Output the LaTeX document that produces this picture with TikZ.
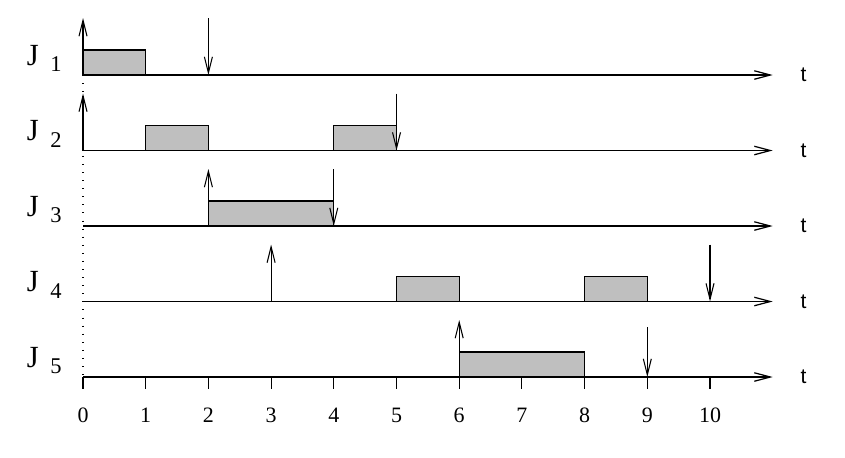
\documentclass[tikz,border=0pt]{standalone}
\usepackage{fontspec}
\setmainfont{Liberation Serif}
\newfontfamily\axisfont{Liberation Sans}
\usetikzlibrary{arrows.meta}

\begin{document}
\begin{tikzpicture}[
    x=1.254cm, y=1cm,
    axis/.style={line width=0.7pt, -{Straight Barb[length=3.2mm, width=1.7mm]}},
    release/.style={line width=0.6pt, -{Straight Barb[length=3.2mm, width=1.6mm]}},
    deadline/.style={line width=0.6pt, -{Straight Barb[length=3.2mm, width=1.6mm]}},
    slot/.style={draw, line width=0.7pt, fill=black!25},
    joblabel/.style={anchor=base west, inner sep=0pt, font=\fontsize{17.5}{19}\selectfont},
    tlabel/.style={anchor=west, inner sep=0pt, font=\axisfont\fontsize{12}{14}\selectfont},
    ticklabel/.style={inner sep=0pt, font=\fontsize{12.5}{14}\selectfont},
]
\useasboundingbox (-1.3238,1.5) rectangle (12.153,-7.64);

% executed slots
\foreach \k/\s/\f in {1/0/1, 2/1/2, 2/4/5, 3/2/4, 4/5/6, 4/8/9, 5/6/8}
    \draw[slot] (\s,{-(\k-1)*1.51}) rectangle (\f,{-(\k-1)*1.51+0.5});

% time axes, one per job
\foreach \k in {1,...,5} {
    \coordinate (a\k) at (0,{-(\k-1)*1.51});
    \draw[axis] (a\k) -- ++(11,0) coordinate (e\k);
    \node[tlabel] (t\k) at ([xshift=0.55cm]e\k) {t};
    \node[joblabel] (j\k) at ([shift={(-0.9,0.2)}]a\k)
        {J\kern6.5pt\raisebox{-3.8pt}{\fontsize{12.8}{14}\selectfont\k}};
}

% release times
\foreach \k/\r in {1/0, 2/0, 3/2, 4/3, 5/6}
    \draw[release] (\r,{-(\k-1)*1.51}) coordinate (r\k) -- ++(0,1.14);

% deadlines
\foreach \k/\d/\l in {1/2/1.14, 2/5/1.14, 3/4/1.14, 4/10/1.14, 5/9/1.0}
    \draw[deadline] (\d,{-(\k-1)*1.51+\l}) -- (\d,{-(\k-1)*1.51}) coordinate (d\k);

% common origin
\draw[line width=0.6pt, dash pattern=on 0.6pt off 4pt] (a1) -- (a5);

% ticks below the last axis
\foreach \i in {0,...,10} {
    \draw[line width=0.6pt] (\i,-6.04) -- ++(0,-0.24);
    \node[ticklabel] (n\i) at (\i,-6.80) {\i};
}
\end{tikzpicture}
\end{document}
